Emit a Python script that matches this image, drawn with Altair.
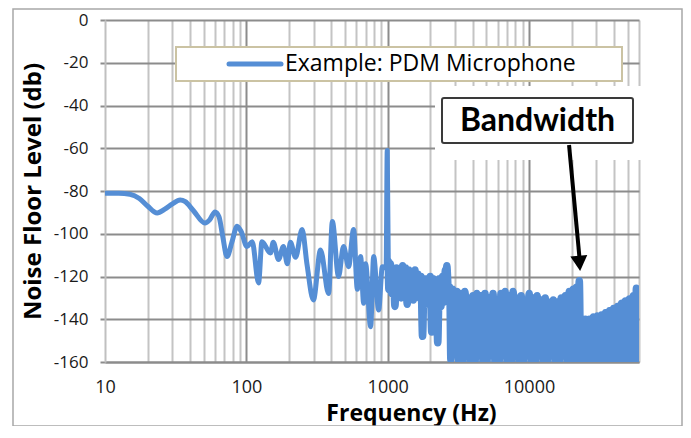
import altair as alt
import pandas as pd

# ---------------- data ----------------
freq_hz = [
    10, 12.5, 15, 17.5, 20, 23.4, 26.5, 30, 34, 37, 42, 51, 55, 60, 64, 68, 73, 79, 86, 92,
    101, 110, 122, 129, 148, 155, 169, 183, 195, 205, 223, 248, 269, 298, 335, 382, 406, 449,
    487, 529, 574, 610, 644, 676, 698, 757, 796, 863, 917, 975, 993, 1010,
    1020, 1045, 1070, 1100, 1125, 1155, 1185, 1215, 1245, 1275, 1310, 1340, 1375, 1410, 1445,
    1480, 1520, 1560, 1600, 1640, 1680, 1720, 1765, 1810, 1855, 1900, 1950, 2000, 2050, 2100,
    2150, 2205, 2260, 2320, 2380, 2440, 2500, 2560, 2590, 2620, 2690, 2750,
    2800, 2890, 2990, 3090, 3190, 3300, 3410, 3520, 3640, 3760, 3880, 4010, 4150, 4280, 4430,
    4570, 4730, 4880, 5040, 5210, 5390, 5560, 5750, 5940, 6140, 6340, 6550, 6770, 7000, 7230,
    7470, 7720, 7970, 8240, 8510, 8800, 9090, 9390, 9700, 10020, 10360, 10700, 11060, 11420,
    11800, 12200, 12600, 13020, 13450, 13900, 14360, 14840, 15330, 15840, 16370, 16910, 17470,
    18050, 18650, 19270, 19910, 20570, 21250, 21700, 22100, 22680, 23200, 23800, 24400, 25020,
    25850, 26700, 27590, 28510, 29450, 30430, 31440, 32490, 33560, 34680, 35830, 37020, 38250,
    39520, 40830, 42180, 43580, 45030, 46530, 48070, 49670, 51310, 53020, 54780, 56600, 57500,
    58480, 59300,
]
level_db = [
    -81, -81, -81.5, -83.5, -87, -90.3, -88.5, -86, -84.2, -85, -89, -95, -93.5, -89.8, -92,
    -101, -110.7, -104, -96.5, -99,
    -106, -103.7, -123, -103.7, -109, -104, -112, -106, -114, -104, -111, -98, -114.6, -131,
    -107.6, -128, -94.3, -120, -106, -115.4, -98, -126, -110.7, -132.5, -114, -143.5, -110.7,
    -135.7, -115.4, -116, -61, -113,
    -126, -114, -128, -117, -134, -116, -127, -117, -130, -115, -126, -116, -133, -117, -127,
    -118, -131, -117, -128, -119, -130, -120, -148, -121, -133, -121, -129, -120, -146, -121,
    -131, -122, -151, -121, -134, -120, -132, -117, -128, -115, -127, -125,
    -159, -126, -152, -127, -160, -128, -160, -127, -150, -130, -160, -129, -160, -128, -151,
    -129, -160, -128, -160, -130, -149, -128, -160, -131, -160, -128, -152, -127, -160, -129,
    -160, -127, -150, -130, -160, -129, -160, -131, -151, -128, -160, -130, -160, -129,
    -148, -131, -160, -130, -160, -132, -152, -131, -160, -132, -160, -130, -150,
    -129, -160, -127, -160, -126, -160, -125, -160, -122, -160, -141, -160, -140,
    -160, -140, -160, -139, -160, -138.5, -160, -138, -160, -137, -160, -136, -160,
    -135, -160, -134, -160, -132.5, -160, -131.5, -160, -130.5, -160, -129, -160, -125.5,
    -160, -127,
]
assert len(freq_hz) == len(level_db)

y_ticks = [0, -20, -40, -60, -80, -100, -120, -140, -160]
x_labels = [10, 100, 1000, 10000]
x_grid = [10, 20, 30, 40, 50, 60, 70, 80, 90,
          100, 200, 300, 400, 500, 600, 700, 800, 900,
          1000, 2000, 3000, 4000, 5000, 6000, 7000, 8000, 9000,
          10000, 20000, 30000, 40000, 50000, 60000]

series_name = "Example: PDM Microphone"
annotation_text = "Bandwidth"
arrow_start = {"freq": 19200, "level": -58.5}
arrow_end = {"freq": 22700, "level": -110.5}
arrow_tip = {"freq": 23000, "level": -117.4}
dense_from_hz = 1010

BLUE = "#558ED5"
GRID_DARK = "#8c8c8c"
GRID_LIGHT = "#c4c4c4"
FONT = "Open Sans"

df = pd.DataFrame({"freq": freq_hz, "level": level_db})
one = pd.DataFrame({"label": [series_name], "note": [annotation_text]})
arrow_df = pd.DataFrame([{"freq": arrow_start["freq"], "level": arrow_start["level"],
                          "freq2": arrow_end["freq"], "level2": arrow_end["level"]}])
tip_df = pd.DataFrame([arrow_tip])

W, H = 534, 342
xs = alt.Scale(type="log", domain=[10, 60000], nice=False)
ys = alt.Scale(domain=[-160, 0], nice=False)

major_test = f"indexof({x_labels}, datum.value) >= 0"

x_axis = alt.Axis(
    values=x_grid,
    title="Frequency (Hz)",
    labelExpr=f"{major_test} ? '' + datum.value : ''",
    labelOverlap=False,
    labelFlush=False,
    labelFont=FONT, labelFontSize=18, labelColor="#1a1a1a",
    labelBaseline="middle", labelPadding=25,
    ticks=False, tickSize=0,
    domainColor=GRID_DARK, domainWidth=2,
    grid=True,
    gridColor={"condition": {"test": major_test, "value": GRID_DARK}, "value": GRID_LIGHT},
    gridOpacity={"condition": {"test": "datum.value == 10", "value": 0}, "value": 1},
    gridWidth=2,
    titleFont=FONT, titleFontSize=23, titleFontWeight="bold", titleColor="black",
    titleX=306, titleY=51, titleAlign="center", titleBaseline="middle",
)
y_axis = alt.Axis(
    values=y_ticks,
    title="Noise Floor Level (db)",
    labelExpr="'' + datum.value",
    labelFont=FONT, labelFontSize=17, labelColor="#1a1a1a",
    labelPadding=12, labelFlush=False,
    tickSize=5, tickColor=GRID_DARK, tickWidth=2,
    domainColor="#c0c0c0", domainWidth=2,
    grid=True, gridColor=GRID_DARK, gridWidth=2,
    titleFont=FONT, titleFontSize=24, titleFontWeight="bold", titleColor="black",
    titleAngle=270, titleX=-72, titleY=171, titleAlign="center", titleBaseline="middle",
)

base = alt.Chart(df).encode(
    x=alt.X("freq:Q", scale=xs, axis=x_axis),
    y=alt.Y("level:Q", scale=ys, axis=y_axis),
)
line_low = base.transform_filter(f"datum.freq <= {dense_from_hz}").mark_line(
    color=BLUE, strokeWidth=5, interpolate="monotone", clip=True,
    strokeJoin="round", strokeCap="round")
line_dense = base.transform_filter(f"datum.freq >= {dense_from_hz}").mark_line(
    color=BLUE, strokeWidth=7.5, interpolate="monotone", clip=True,
    strokeJoin="round", strokeCap="round")

# legend box
legend_box = alt.Chart(one).mark_rect(fill="white", stroke="#cbc3a3", strokeWidth=2).encode(
    x=alt.value(71), x2=alt.value(517), y=alt.value(27), y2=alt.value(61))
legend_swatch = alt.Chart(one).mark_rule(color=BLUE, strokeWidth=5, strokeCap="round").encode(
    x=alt.value(124), x2=alt.value(176), y=alt.value(44))
legend_text = alt.Chart(one).mark_text(
    align="left", baseline="middle", font=FONT, fontSize=23, color="black").encode(
    x=alt.value(180), y=alt.value(44), text="label:N")

# annotation
mask = alt.Chart(one).mark_rect(fill="white", stroke=None).encode(
    x=alt.value(330), x2=alt.value(538), y=alt.value(66), y2=alt.value(140))
note_box = alt.Chart(one).mark_rect(fill="white", stroke="#3a3a3a", strokeWidth=2,
                                    cornerRadius=2).encode(
    x=alt.value(337), x2=alt.value(528), y=alt.value(78), y2=alt.value(123))
note_text = alt.Chart(one).mark_text(
    align="center", baseline="middle", font="Lato", fontSize=32, fontWeight="bold",
    color="black").encode(x=alt.value(432.5), y=alt.value(101), text="note:N")
arrow = alt.Chart(arrow_df).mark_rule(color="black", strokeWidth=4).encode(
    x=alt.X("freq:Q", scale=xs), x2="freq2:Q",
    y=alt.Y("level:Q", scale=ys), y2="level2:Q")
arrow_head = alt.Chart(tip_df).mark_point(
    shape="M-1,-1.8L1,-1.8L0,0Z", filled=True, fill="black", color="black",
    size=289, angle=355, opacity=1).encode(
    x=alt.X("freq:Q", scale=xs), y=alt.Y("level:Q", scale=ys))

border = alt.Chart(one).mark_rect(fill="white", fillOpacity=0, stroke="#a8a8a8",
                                  strokeWidth=1.5).encode(
    x=alt.value(-92), x2=alt.value(577), y=alt.value(-11), y2=alt.value(406))

chart = alt.layer(
    line_low, line_dense, legend_box, legend_swatch, legend_text, mask, arrow, arrow_head,
    note_box, note_text, border,
).properties(
    width=W, height=H,
    autosize=alt.AutoSizeParams(type="none"),
    padding={"left": 97, "top": 12, "right": 44, "bottom": 64},
    background="white",
).configure_view(strokeWidth=0)

chart.save("out.html", embed_options={"renderer": "svg", "actions": False})
